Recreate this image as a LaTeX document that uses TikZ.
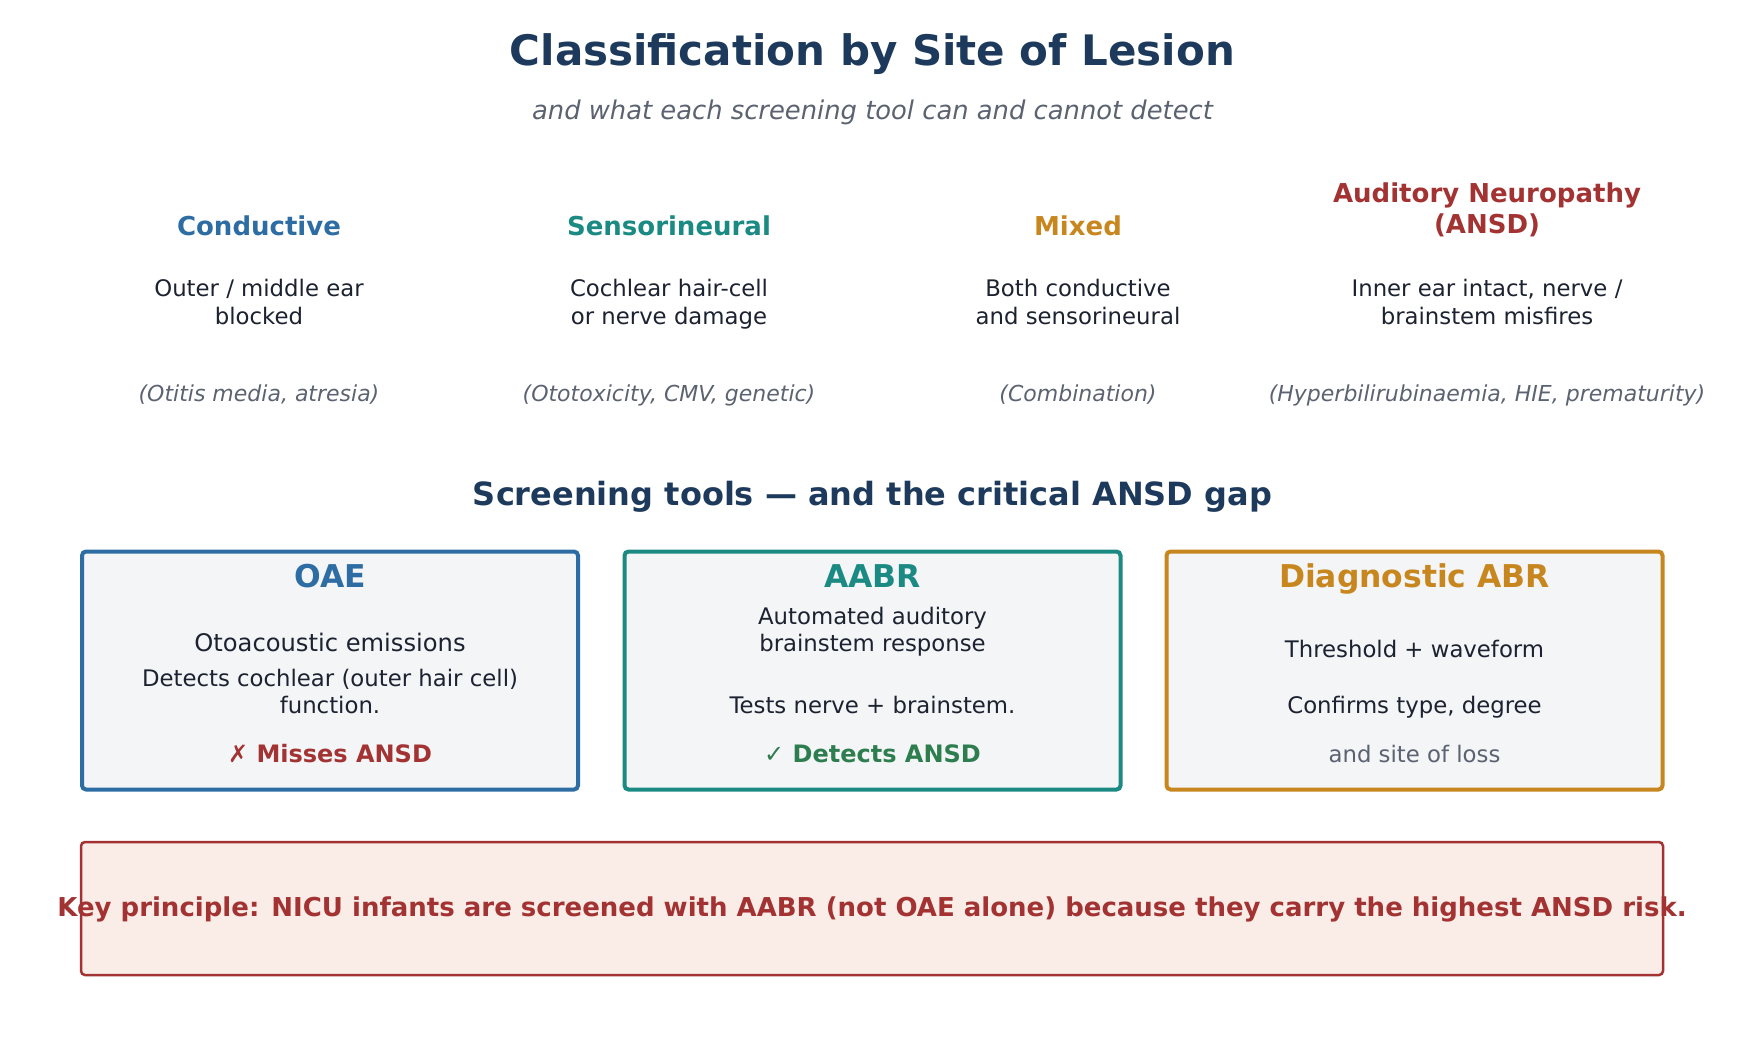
\documentclass[tikz,border=0pt]{standalone}
\usepackage{fontspec}
\setmainfont{DejaVu Sans}
\newfontfamily\markfont{DejaVu Sans}
\usepackage{xcolor}
\definecolor{colNavy}{HTML}{1D3A5C}
\definecolor{colBlue}{HTML}{2E6DA4}
\definecolor{colTeal}{HTML}{1B8A83}
\definecolor{colAmber}{HTML}{C8861F}
\definecolor{colRed}{HTML}{A33333}
\definecolor{colGreen}{HTML}{2E7D4E}
\definecolor{colText}{HTML}{1C2230}
\definecolor{colMuted}{HTML}{5B6270}
\definecolor{colPanel}{HTML}{F3F5F7}
\definecolor{colWarn}{HTML}{FAEDE8}
\usepackage{tikz}
\usetikzlibrary{positioning}

\begin{document}
\begin{tikzpicture}[
				x=0.5pt, y=-0.5pt,
				every node/.style={anchor=base, align=center, inner sep=0pt},
				typehead/.style={font=\fontsize{13}{15.2}\selectfont\bfseries},
				typedesc/.style={font=\fontsize{11.4}{13.7}\selectfont, text=colText},
				typeeg/.style={font=\fontsize{11}{13}\selectfont\itshape, text=colMuted},
				toolbox/.style={draw, line width=2pt, rounded corners=2pt, fill=colPanel,
				      minimum width=248pt, minimum height=119pt, anchor=center},
				tooltitle/.style={font=\fontsize{15.7}{18}\selectfont\bfseries},
				toolbody/.style={font=\fontsize{11.4}{13.5}\selectfont, text=colText},
				verdict/.style={font=\fontsize{12}{14}\selectfont\bfseries}
			]
				\useasboundingbox (0,0) rectangle (1745,1056);
				\node[font=\fontsize{21}{24}\selectfont\bfseries, text=colNavy]
				     (title) at (872.5,65) {Classification by Site of Lesion};
				\node[font=\fontsize{12.9}{15}\selectfont\itshape, text=colMuted]
				     (subtitle) at (872.5,119) {and what each screening tool can and cannot detect};

				\node[typehead, text=colBlue] (cond) at (259,235) {Conductive};
				\node[typehead, text=colTeal] (sens) at (669,235) {Sensorineural};
				\node[typehead, text=colAmber] (mixed) at (1078,235) {Mixed};
				\node[typehead, text=colRed] (ansd) at (1487,233) {Auditory Neuropathy\\(ANSD)};

				\node[typedesc] (conddesc) at (259,324) {Outer / middle ear\\blocked};
				\node[typedesc] (sensdesc) at (669,324) {Cochlear hair-cell\\or nerve damage};
				\node[typedesc] (mixeddesc) at (1078,324) {Both conductive\\and sensorineural};
				\node[typedesc] (ansddesc) at (1487,324) {Inner ear intact, nerve /\\brainstem misfires};

				\node[typeeg] (condeg) at (259,401) {(Otitis media, atresia)};
				\node[typeeg] (senseg) at (669,401) {(Ototoxicity, CMV, genetic)};
				\node[typeeg] (mixedeg) at (1078,401) {(Combination)};
				\node[typeeg] (ansdeg) at (1487,401) {(Hyperbilirubinaemia, HIE, prematurity)};

				\node[font=\fontsize{16}{19}\selectfont\bfseries, text=colNavy]
				     (gap) at (872.5,505) {Screening tools --- and the critical ANSD gap};

				\node[toolbox, draw=colBlue] (oae) at (330,670.5) {};
				\node[toolbox, draw=colTeal] (aabr) at (872.5,670.5) {};
				\node[toolbox, draw=colAmber] (dabr) at (1414.5,670.5) {};

				\node[tooltitle, text=colBlue] (oaetitle) at (330,587) {OAE};
				\node[toolbody, font=\fontsize{12.1}{14}\selectfont] (oaename) at (330,651) {Otoacoustic emissions};
				\node[toolbody] (oaedesc) at (330,713) {Detects cochlear (outer hair cell)\\function.};
				\node[verdict, text=colRed] (oaemiss) at (330,762)
				     {{\markfont\mdseries ✗} Misses ANSD};

				\node[tooltitle, text=colTeal] (aabrtitle) at (872.5,587) {AABR};
				\node[toolbody] (aabrname) at (872.5,651) {Automated auditory\\brainstem response};
				\node[toolbody] (aabrdesc) at (872.5,713) {Tests nerve + brainstem.};
				\node[verdict, text=colGreen] (aabrhit) at (872.5,762)
				     {{\markfont\mdseries ✓} Detects ANSD};

				\node[tooltitle, text=colAmber] (dabrtitle) at (1414.5,587) {Diagnostic ABR};
				\node[toolbody] (dabrname) at (1414.5,657) {Threshold + waveform};
				\node[toolbody] (dabrdesc) at (1414.5,713) {Confirms type, degree};
				\node[toolbody, text=colMuted] (dabrsite) at (1414.5,762) {and site of loss};

				\node[draw=colRed, line width=1.25pt, rounded corners=2pt, fill=colWarn,
				      minimum width=791pt, minimum height=66.5pt, anchor=center]
				     (keybox) at (872,908.5) {};
				\node[font=\fontsize{13}{15}\selectfont\bfseries, text=colRed]
				     (key) at (872,916) {Key principle: NICU infants are screened with AABR (not OAE alone) because they carry the highest ANSD risk.};
			\end{tikzpicture}
\end{document}
